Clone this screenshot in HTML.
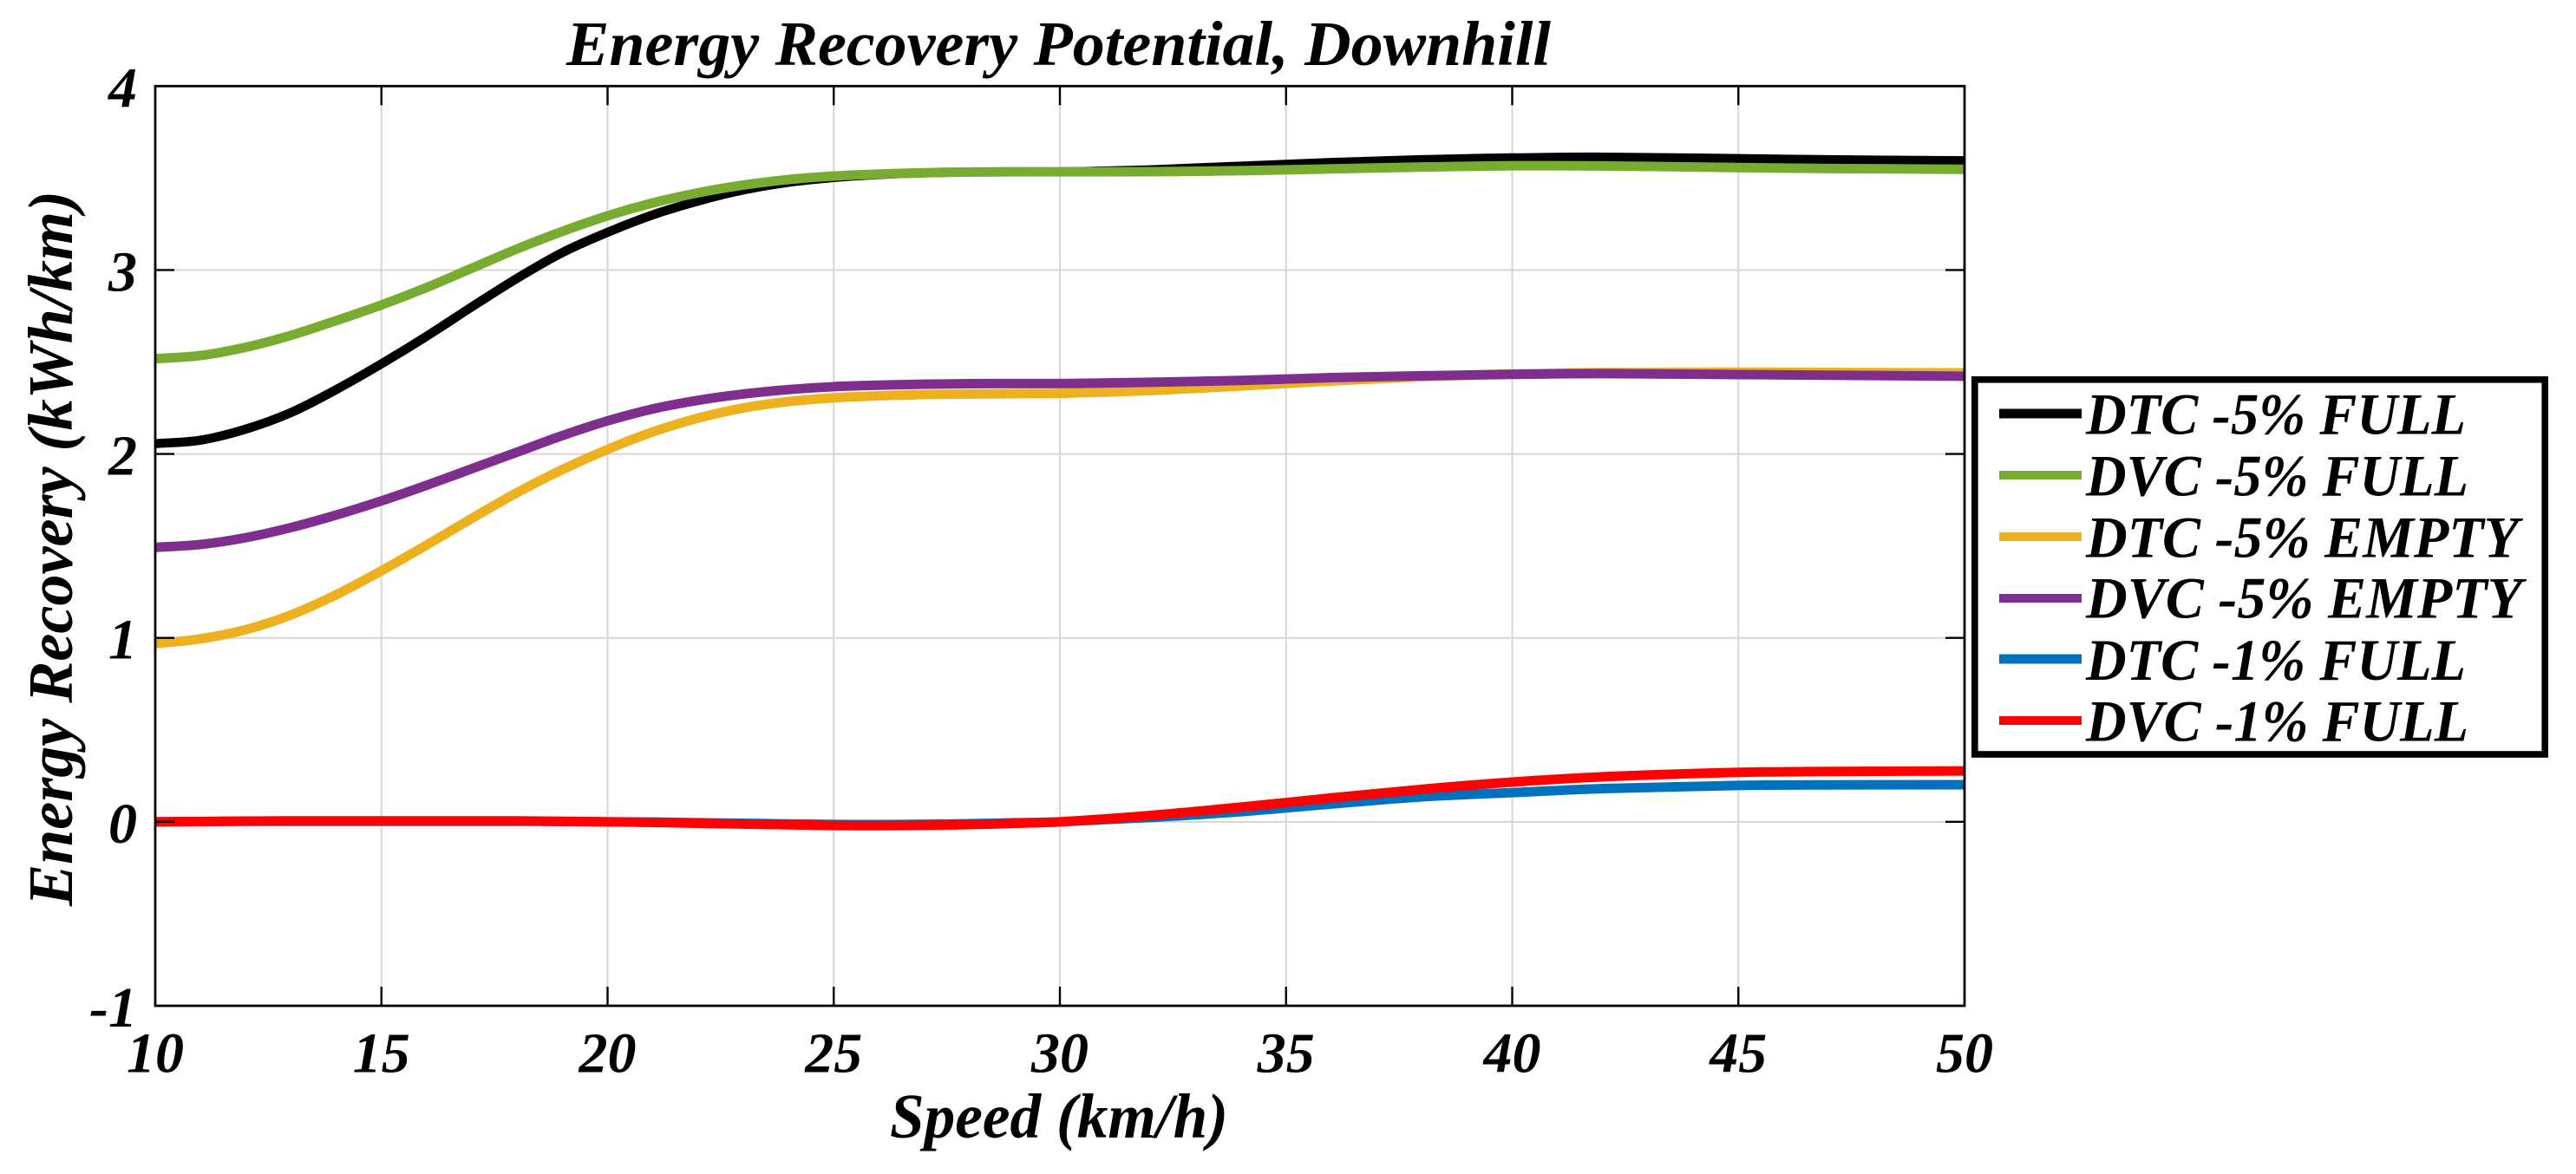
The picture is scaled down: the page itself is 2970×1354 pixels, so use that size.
<!DOCTYPE html>
<html>
<head>
<meta charset="utf-8">
<title>Energy Recovery Potential, Downhill</title>
<style>
html,body{margin:0;padding:0;background:#fff;}
svg{display:block;}
text{font-family:"Liberation Serif",serif;font-weight:bold;font-style:italic;fill:#000;}
.tick{font-size:66px;}
.leg{font-size:68px;}
.lab{font-size:73px;}
</style>
</head>
<body>
<svg id="chart" xmlns="http://www.w3.org/2000/svg" width="2970" height="1354" viewBox="0 0 2970 1354">
  <rect x="0" y="0" width="2970" height="1354" fill="#fff"/>
  <defs><clipPath id="plot-clip"><rect x="179" y="99.3" width="2086" height="1060.7"/></clipPath></defs>
  <g id="grid"></g>
  <g id="series" clip-path="url(#plot-clip)"></g>
  <g id="ticks"></g>
  <rect x="179" y="99.3" width="2086" height="1060.7" fill="none" stroke="#000" stroke-width="2.8"/>
  <g id="xlabels"></g>
  <g id="ylabels"></g>

  <text class="lab" x="653" y="75" textLength="1135" lengthAdjust="spacingAndGlyphs">Energy Recovery Potential, Downhill</text>
  <text class="lab" x="1026" y="1312" textLength="390" lengthAdjust="spacingAndGlyphs">Speed (km/h)</text>
  <text class="lab" transform="translate(83,1045) rotate(-90)" x="0" y="0" textLength="825" lengthAdjust="spacingAndGlyphs">Energy Recovery (kWh/km)</text>

  <g>
    <rect x="2276.8" y="437.8" width="657.4" height="432.2" fill="#fff" stroke="#000" stroke-width="7.6"/>
    <g>
      <line x1="2305" x2="2400" y1="477" y2="477" stroke="#000" stroke-width="11"/>
      <text class="leg" x="2405" y="500.7" textLength="438" lengthAdjust="spacingAndGlyphs">DTC -5% FULL</text>
    </g>
    <g>
      <line x1="2305" x2="2400" y1="548" y2="548" stroke="#77AC30" stroke-width="10"/>
      <text class="leg" x="2405" y="571.7" textLength="441" lengthAdjust="spacingAndGlyphs">DVC -5% FULL</text>
    </g>
    <g>
      <line x1="2305" x2="2400" y1="619" y2="619" stroke="#EDB120" stroke-width="10"/>
      <text class="leg" x="2405" y="642.3" textLength="499" lengthAdjust="spacingAndGlyphs">DTC -5% EMPTY</text>
    </g>
    <g>
      <line x1="2305" x2="2400" y1="690" y2="690" stroke="#7E2F8E" stroke-width="10"/>
      <text class="leg" x="2405" y="712.7" textLength="503" lengthAdjust="spacingAndGlyphs">DVC -5% EMPTY</text>
    </g>
    <g>
      <line x1="2305" x2="2400" y1="760" y2="760" stroke="#0072BD" stroke-width="11"/>
      <text class="leg" x="2405" y="784" textLength="438" lengthAdjust="spacingAndGlyphs">DTC -1% FULL</text>
    </g>
    <g>
      <line x1="2305" x2="2400" y1="831" y2="831" stroke="#FF0000" stroke-width="10"/>
      <text class="leg" x="2405" y="854.3" textLength="441" lengthAdjust="spacingAndGlyphs">DVC -1% FULL</text>
    </g>
  </g>
</svg>
<script>
const speeds = [10,11,12,13,14,15,16,17,18,19,20,21,22,23,24,25,26,27,28,29,30,32,34,36,38,40,42,45,47,50];
const dtc5Full = [2.056,2.075,2.135,2.225,2.35,2.49,2.64,2.80,2.955,3.095,3.205,3.30,3.375,3.435,3.477,3.503,3.519,3.528,3.533,3.534,3.534,3.545,3.565,3.585,3.60,3.61,3.614,3.606,3.60,3.594];
const dvc5Full = [2.518,2.535,2.58,2.645,2.725,2.81,2.905,3.01,3.115,3.21,3.295,3.365,3.42,3.462,3.492,3.511,3.522,3.529,3.533,3.534,3.534,3.535,3.54,3.55,3.56,3.567,3.566,3.557,3.552,3.548];
const dtc5Empty = [0.969,0.995,1.045,1.125,1.235,1.365,1.505,1.65,1.79,1.915,2.025,2.12,2.195,2.25,2.285,2.305,2.316,2.323,2.326,2.328,2.33,2.345,2.37,2.397,2.42,2.435,2.442,2.444,2.443,2.441];
const dvc5Empty = [1.492,1.508,1.545,1.60,1.668,1.745,1.83,1.92,2.01,2.10,2.18,2.245,2.292,2.326,2.35,2.366,2.374,2.379,2.382,2.383,2.383,2.39,2.40,2.415,2.425,2.433,2.437,2.432,2.428,2.423];
const dtc1Full = [0,0.002,0.003,0.003,0.003,0.003,0.003,0.003,0.003,0.002,0,-0.001,-0.005,-0.008,-0.011,-0.014,-0.015,-0.013,-0.01,-0.005,0,0.024,0.055,0.097,0.136,0.159,0.181,0.198,0.201,0.202];
const dvc1Full = [0,0.002,0.004,0.005,0.005,0.005,0.005,0.005,0.005,0.003,0,-0.003,-0.008,-0.012,-0.016,-0.02,-0.021,-0.019,-0.015,-0.008,0,0.035,0.08,0.13,0.177,0.216,0.245,0.269,0.274,0.277];
const xTickValues = [10,15,20,25,30,35,40,45,50];
const yTickValues = [-1,0,1,2,3,4];

const NS = 'http://www.w3.org/2000/svg';
const left = 179, right = 2265, top_ = 99.3, bottom = 1160;
const xMin = 10, xMax = 50, yMin = -1, yMax = 4;
function xScale(v){ return left + (v - xMin) / (xMax - xMin) * (right - left); }
function yScale(v){ return bottom - (v - yMin) / (yMax - yMin) * (bottom - top_); }

function makeLine(parent, x1, y1, x2, y2, color, width){
  const l = document.createElementNS(NS, 'line');
  l.setAttribute('x1', x1); l.setAttribute('y1', y1);
  l.setAttribute('x2', x2); l.setAttribute('y2', y2);
  l.setAttribute('stroke', color); l.setAttribute('stroke-width', width);
  parent.appendChild(l);
  return l;
}
function smoothPath(xs, ys){
  const px = xs.map(xScale), py = ys.map(yScale), n = px.length, m = [];
  for (let i = 0; i < n; i++){
    if (i === 0) m.push((py[1] - py[0]) / (px[1] - px[0]));
    else if (i === n - 1) m.push((py[n-1] - py[n-2]) / (px[n-1] - px[n-2]));
    else m.push((py[i+1] - py[i-1]) / (px[i+1] - px[i-1]));
  }
  let d = 'M' + px[0].toFixed(2) + ' ' + py[0].toFixed(2);
  for (let i = 0; i < n - 1; i++){
    const h = (px[i+1] - px[i]) / 3;
    d += ' C' + (px[i] + h).toFixed(2) + ' ' + (py[i] + m[i] * h).toFixed(2) + ' ' +
         (px[i+1] - h).toFixed(2) + ' ' + (py[i+1] - m[i+1] * h).toFixed(2) + ' ' +
         px[i+1].toFixed(2) + ' ' + py[i+1].toFixed(2);
  }
  return d;
}

const gridG = document.getElementById('grid');
const ticksG = document.getElementById('ticks');
const xLabG = document.getElementById('xlabels');
const yLabG = document.getElementById('ylabels');
const seriesG = document.getElementById('series');

xTickValues.forEach(function(v){
  const x = xScale(v);
  if (v !== xMin && v !== xMax){
    const g = makeLine(gridG, x, top_, x, bottom, '#d6d6d6', 2);
    
    
    const t1 = makeLine(ticksG, x, top_, x, top_ + 22, '#000', 2.4);
    
    
    const t2 = makeLine(ticksG, x, bottom, x, bottom - 22, '#000', 2.4);
    
    
  }
  const t = document.createElementNS(NS, 'text');
  t.setAttribute('class', 'tick');
  t.setAttribute('x', x);
  t.setAttribute('y', 1236.7);
  t.setAttribute('text-anchor', 'middle');
  t.textContent = String(v);
  
  
  xLabG.appendChild(t);
});

yTickValues.forEach(function(v){
  const y = yScale(v);
  if (v !== yMin && v !== yMax){
    const g = makeLine(gridG, left, y, right, y, '#d6d6d6', 2);
    
    
    const t1 = makeLine(ticksG, left, y, left + 22, y, '#000', 2.4);
    
    
    const t2 = makeLine(ticksG, right, y, right - 22, y, '#000', 2.4);
    
    
  }
  const t = document.createElementNS(NS, 'text');
  t.setAttribute('class', 'tick');
  t.setAttribute('x', 158);
  t.setAttribute('y', y + 24);
  t.setAttribute('text-anchor', 'end');
  t.textContent = String(v);
  
  
  yLabG.appendChild(t);
});

function drawSeries(values, color, width, name){
  const p = document.createElementNS(NS, 'path');
  p.setAttribute('d', smoothPath(speeds, values));
  p.setAttribute('fill', 'none');
  p.setAttribute('stroke', color);
  p.setAttribute('stroke-width', width);
  p.setAttribute('stroke-linejoin', 'round');
  
  
  seriesG.appendChild(p);
}
drawSeries(dtc5Full, '#000000', 10.5, 'series-dtc-5-full');
drawSeries(dvc5Full, '#77AC30', 11, 'series-dvc-5-full');
drawSeries(dtc5Empty, '#EDB120', 11, 'series-dtc-5-empty');
drawSeries(dvc5Empty, '#7E2F8E', 11, 'series-dvc-5-empty');
drawSeries(dtc1Full, '#0072BD', 11, 'series-dtc-1-full');
drawSeries(dvc1Full, '#FF0000', 11, 'series-dvc-1-full');
</script>
</body>
</html>
